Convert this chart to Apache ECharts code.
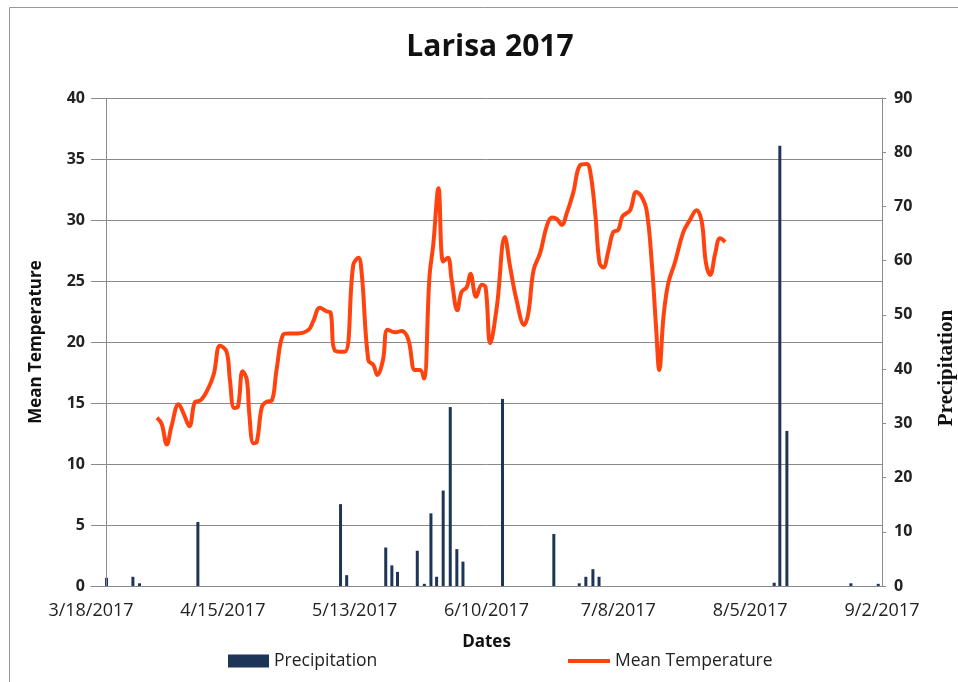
<!DOCTYPE html>
<html>
<head>
<meta charset="utf-8">
<script src="https://cdn.jsdelivr.net/npm/echarts@6/dist/echarts.min.js"></script>
<style>
  html, body { margin: 0; padding: 0; background: #fff; }
  #chart { width: 958px; height: 682px; }
</style>
</head>
<body>
<div id="chart"></div>
<script>
// days counted from 3/18/2017
const tempDay = [14.0, 15.0, 16.1, 17.1, 18.6, 19.6, 20.9, 22.1, 23.2, 24.9, 26.1, 27.4, 28.8, 29.5, 30.4, 31.2,
    32.2, 33.1, 33.6, 34.5, 35.2, 36.3, 37.3, 38.4, 39.4, 40.8, 41.9, 44.0, 46.2, 47.2, 48.6, 50.1, 50.9, 51.8,
    53.9, 55.7, 56.8, 57.5, 58.9, 60.0, 60.8, 62.0, 63.0, 64.6, 66.0, 67.4, 68.8, 69.9, 70.7, 71.9, 72.7, 73.8,
    74.8, 75.8, 76.6, 77.8, 78.7, 79.8, 80.6, 81.8, 83.0, 83.8, 84.8, 86.2, 87.9, 89.0, 90.4, 92.0, 92.9, 94.0,
    95.4, 96.8, 97.9, 98.9, 100.0, 101.0, 102.4, 103.9, 105.3, 106.1, 107.1, 108.0, 108.8, 109.9, 110.9, 112.0,
    112.9, 114.5, 115.8, 116.8, 118.0, 119.1, 120.0, 120.7, 121.6, 122.6, 124.0, 125.8, 127.2, 128.6, 129.7,
    130.6, 131.5, 132.6, 133.6, 134.7];
const tempValue = [13.8, 13.3, 11.6, 13.1, 14.9, 14.2, 13.1, 15.1, 15.2, 16.2, 17.4, 19.7, 19.2, 16.9, 14.6, 14.7,
    17.6, 16.9, 14.2, 11.7, 11.8, 14.7, 15.1, 15.2, 17.7, 20.6, 20.7, 20.7, 21.0, 21.7, 22.8, 22.5, 22.4, 19.3,
    19.2, 26.3, 26.9, 25.6, 18.5, 18.1, 17.3, 18.5, 21.0, 20.8, 20.9, 20.2, 17.7, 17.7, 17.0, 25.4, 28.0, 32.6,
    26.6, 26.9, 25.1, 22.6, 24.1, 24.5, 25.6, 23.7, 24.7, 24.5, 19.9, 22.9, 28.6, 26.2, 23.4, 21.4, 22.4, 25.9,
    27.3, 29.5, 30.2, 30.1, 29.6, 30.5, 32.2, 34.5, 34.6, 33.8, 30.5, 26.5, 26.1, 27.5, 29.0, 29.2,
    30.3, 30.8, 32.3, 32.0, 30.8, 26.5, 21.3, 17.7, 22.1, 24.8, 26.5, 29.0, 30.0, 30.8, 29.9,
    26.5, 25.5, 27.3, 28.5, 28.2];

const precipDay = [3.3, 8.9, 10.3, 22.7, 53.0, 54.3, 62.6, 63.9, 65.1, 69.3, 70.8, 72.2, 73.4, 74.8, 76.3, 77.7,
    79.0, 87.4, 98.3, 103.7, 105.1, 106.6, 107.9, 145.1, 146.3, 147.8, 161.4, 167.2];
const precipValue = [1.5, 1.7, 0.5, 11.8, 15.1, 2.0, 7.1, 3.8, 2.6, 6.5, 0.4, 13.4, 1.7, 17.6, 33.0, 6.8,
    4.5, 34.5, 9.6, 0.5, 1.7, 3.1, 1.7, 0.6, 81.2, 28.6, 0.5, 0.4];

const yAxisCrossDay = 3.2;
const startDate = Date.UTC(2017, 2, 18);
const font = 'Open Sans';
const gridColor = '#8a8a8a';

function dayLabel(d) {
    const t = new Date(startDate + d * 86400000);
    return (t.getUTCMonth() + 1) + '/' + t.getUTCDate() + '/' + t.getUTCFullYear();
}

const chart = echarts.init(document.getElementById('chart'));

const option = {
    backgroundColor: '#fff',
    animation: false,
    title: {
        text: 'Larisa 2017',
        left: 485,
        top: 27,
        textAlign: 'center',
        textStyle: { fontFamily: font, fontSize: 30, fontWeight: 'bold', color: '#111' }
    },
    legend: [
        {
            data: [{ name: 'Precipitation', icon: 'rect' }],
            left: 223,
            top: 647,
            itemWidth: 41,
            itemHeight: 13,
            textStyle: { fontFamily: font, fontSize: 17.5, color: '#222' }
        },
        {
            data: [{ name: 'Mean Temperature', icon: 'rect' }],
            left: 563,
            top: 647,
            itemWidth: 42,
            itemHeight: 4,
            textStyle: { fontFamily: font, fontSize: 17.5, color: '#222' }
        }
    ],
    grid: { left: 91, right: 76, top: 98, bottom: 96, outerBoundsMode: 'none' },
    xAxis: {
        type: 'value',
        min: 0,
        max: 168,
        interval: 28,
        name: 'Dates',
        nameLocation: 'middle',
        nameGap: 48,
        nameTextStyle: { fontFamily: font, fontSize: 17, fontWeight: 'bold', color: '#111' },
        axisLine: { lineStyle: { color: gridColor } },
        axisTick: { show: false },
        splitLine: { show: false },
        axisLabel: {
            formatter: dayLabel,
            margin: 16,
            showMinLabel: true,
            showMaxLabel: true,
            fontFamily: font,
            fontSize: 18,
            color: '#222'
        }
    },
    yAxis: [
        {
            type: 'value',
            min: 0,
            max: 40,
            interval: 5,
            name: 'Mean Temperature',
            nameLocation: 'middle',
            nameRotate: 90,
            nameGap: 46,
            nameTextStyle: { fontFamily: font, fontSize: 17, fontWeight: 'bold', color: '#111' },
            axisLine: { show: false },
            axisTick: { show: false },
            splitLine: { lineStyle: { color: gridColor } },
            axisLabel: { margin: 6, fontFamily: font, fontSize: 16, fontWeight: 'bold', color: '#222' }
        },
        {
            type: 'value',
            position: 'right',
            min: 0,
            max: 90,
            interval: 10,
            name: 'Precipitation',
            nameLocation: 'middle',
            nameRotate: 90,
            nameGap: 54,
            nameTextStyle: {
                fontFamily: 'Liberation Serif', fontSize: 21, fontWeight: 'bold', color: '#111',
                padding: [0, 52, 0, 0]
            },
            axisLine: { show: true, lineStyle: { color: gridColor } },
            axisTick: { show: true, length: 4, lineStyle: { color: gridColor } },
            splitLine: { show: false },
            axisLabel: { margin: 12, fontFamily: font, fontSize: 16, fontWeight: 'bold', color: '#222' }
        }
    ],
    series: [
        {
            name: 'Precipitation',
            type: 'bar',
            xAxisIndex: 0,
            yAxisIndex: 1,
            barWidth: 3,
            itemStyle: { color: '#1d3557' },
            data: precipDay.map((d, i) => [d, precipValue[i]]),
            markLine: {
                silent: true,
                symbol: 'none',
                label: { show: false },
                lineStyle: { color: gridColor, type: 'solid', width: 1 },
                data: [{ xAxis: yAxisCrossDay }]
            }
        },
        {
            name: 'Mean Temperature',
            type: 'line',
            xAxisIndex: 0,
            yAxisIndex: 0,
            smooth: 0.4,
            symbol: 'none',
            color: '#ff420e',
            lineStyle: { width: 4, color: '#ff420e' },
            data: tempDay.map((d, i) => [d, tempValue[i]])
        }
    ],
    graphic: [
        {
            type: 'rect',
            silent: true,
            shape: { x: 9.5, y: 7.5, width: 1200, height: 1200 },
            style: { fill: null, stroke: '#999', lineWidth: 1 }
        }
    ]
};

chart.setOption(option);
</script>
</body>
</html>
